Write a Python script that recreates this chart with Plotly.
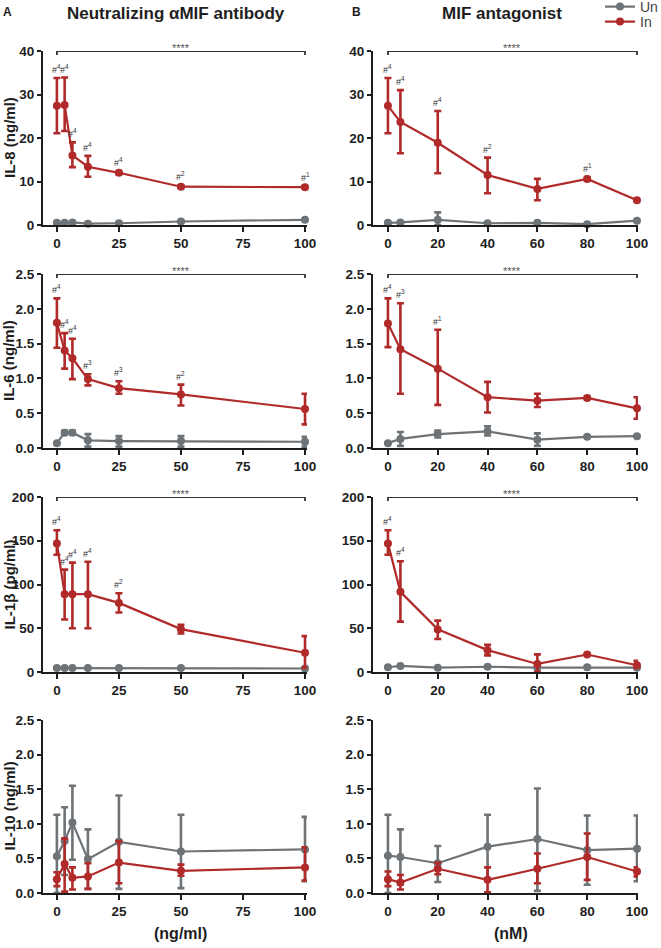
import plotly.graph_objects as go

# ---------------- data ----------------
x_ab = [0, 3.125, 6.25, 12.5, 25, 50, 100]
x_ant = [0, 5, 20, 40, 60, 80, 100]

# IL-8 (ng/ml)
il8_ab_un = [0.5, 0.5, 0.6, 0.3, 0.4, 0.8, 1.2]
il8_ab_un_up = [0.2, 0.2, 0.2, 0.2, 0.2, 0.2, 0.2]
il8_ab_un_dn = [0.2, 0.2, 0.2, 0.2, 0.2, 0.2, 0.2]
il8_ab_in = [27.4, 27.6, 16.0, 13.4, 12.0, 8.8, 8.7]
il8_ab_in_up = [6.4, 6.3, 3.0, 2.5, 0.3, 0.3, 0.3]
il8_ab_in_dn = [6.3, 6.0, 2.7, 2.3, 0.3, 0.3, 0.3]
il8_ab_sig = ["4", "4", "4", "4", "4", "2", "1"]

il8_ant_un = [0.5, 0.6, 1.2, 0.4, 0.5, 0.2, 1.0]
il8_ant_un_up = [0.2, 0.2, 1.7, 0.2, 0.2, 0.1, 0.2]
il8_ant_un_dn = [0.2, 0.2, 1.2, 0.2, 0.2, 0.1, 0.2]
il8_ant_in = [27.4, 23.7, 18.9, 11.5, 8.3, 10.6, 5.7]
il8_ant_in_up = [6.4, 7.3, 7.3, 4.0, 2.3, 0.4, 0.3]
il8_ant_in_dn = [6.3, 7.2, 7.0, 4.2, 2.6, 0.4, 0.3]
il8_ant_sig = ["4", "4", "4", "2", "", "1", ""]

# IL-6 (ng/ml)
il6_ab_un = [0.07, 0.22, 0.22, 0.11, 0.10, 0.10, 0.09]
il6_ab_un_up = [0.0, 0.03, 0.03, 0.09, 0.07, 0.07, 0.07]
il6_ab_un_dn = [0.0, 0.03, 0.03, 0.09, 0.08, 0.08, 0.07]
il6_ab_in = [1.80, 1.40, 1.29, 0.99, 0.86, 0.77, 0.56]
il6_ab_in_up = [0.35, 0.25, 0.28, 0.07, 0.10, 0.14, 0.22]
il6_ab_in_dn = [0.36, 0.26, 0.30, 0.09, 0.08, 0.16, 0.22]
il6_ab_sig = ["4", "4", "4", "3", "3", "2", ""]

il6_ant_un = [0.07, 0.13, 0.20, 0.24, 0.12, 0.16, 0.17]
il6_ant_un_up = [0.0, 0.10, 0.05, 0.07, 0.09, 0.01, 0.01]
il6_ant_un_dn = [0.0, 0.10, 0.05, 0.06, 0.09, 0.01, 0.01]
il6_ant_in = [1.79, 1.42, 1.14, 0.73, 0.68, 0.72, 0.57]
il6_ant_in_up = [0.36, 0.66, 0.56, 0.22, 0.10, 0.02, 0.16]
il6_ant_in_dn = [0.34, 0.64, 0.52, 0.22, 0.09, 0.02, 0.15]
il6_ant_sig = ["4", "3", "1", "", "", "", ""]

# IL-1beta (pg/ml)
il1b_ab_un = [4.5, 4.5, 4.5, 4.5, 4.5, 4.5, 4.0]
il1b_ab_un_up = [0.5, 0.5, 0.5, 0.5, 0.5, 0.5, 0.5]
il1b_ab_un_dn = [0.5, 0.5, 0.5, 0.5, 0.5, 0.5, 0.5]
il1b_ab_in = [147, 89, 89, 89, 79, 49, 22]
il1b_ab_in_up = [15, 28, 36, 37, 11, 5, 19]
il1b_ab_in_dn = [13, 29, 39, 39, 11, 5, 17]
il1b_ab_sig = ["4", "4", "4", "4", "2", "", ""]

il1b_ant_un = [5.4, 6.9, 5.0, 6.0, 5.0, 5.4, 5.0]
il1b_ant_un_up = [0.5, 0.5, 0.5, 0.5, 0.5, 0.5, 0.5]
il1b_ant_un_dn = [0.5, 0.5, 0.5, 0.5, 0.5, 0.5, 0.5]
il1b_ant_in = [147, 91.6, 48.7, 25, 9.2, 20, 7.7]
il1b_ant_in_up = [15, 35, 10, 6, 11, 1, 5]
il1b_ant_in_dn = [13, 34, 11, 6, 9, 1, 3]
il1b_ant_sig = ["4", "4", "", "", "", "", ""]

# IL-10 (ng/ml)
il10_ab_un = [0.53, 0.75, 1.02, 0.49, 0.74, 0.60, 0.63]
il10_ab_un_up = [0.60, 0.49, 0.53, 0.43, 0.67, 0.53, 0.47]
il10_ab_un_dn = [0.53, 0.49, 0.54, 0.43, 0.68, 0.53, 0.46]
il10_ab_in = [0.20, 0.42, 0.22, 0.24, 0.44, 0.32, 0.37]
il10_ab_in_up = [0.10, 0.37, 0.15, 0.19, 0.31, 0.09, 0.29]
il10_ab_in_dn = [0.10, 0.40, 0.17, 0.18, 0.30, 0.07, 0.19]
il10_ab_sig = ["", "", "", "", "", "", ""]

il10_ant_un = [0.54, 0.52, 0.43, 0.67, 0.78, 0.62, 0.64]
il10_ant_un_up = [0.59, 0.40, 0.25, 0.46, 0.73, 0.50, 0.48]
il10_ant_un_dn = [0.54, 0.40, 0.27, 0.46, 0.75, 0.50, 0.47]
il10_ant_in = [0.20, 0.15, 0.35, 0.19, 0.35, 0.52, 0.31]
il10_ant_in_up = [0.11, 0.11, 0.09, 0.18, 0.22, 0.34, 0.06]
il10_ant_in_dn = [0.10, 0.10, 0.08, 0.18, 0.21, 0.33, 0.07]
il10_ant_sig = ["", "", "", "", "", "", ""]

y_titles = ["IL-8 (ng/ml)", "IL-6 (ng/ml)", "IL-1β (pg/ml)", "IL-10 (ng/ml)"]
y_ranges = [[0, 40], [0, 2.5], [0, 200], [0, 2.5]]
y_dticks = [10, 0.5, 50, 0.5]
y_formats = ["d", ".1f", "d", ".1f"]
x_ab_ticks = [0, 25, 50, 75, 100]
x_ant_ticks = [0, 20, 40, 60, 80, 100]
col_titles = ["Neutralizing αMIF antibody", "MIF antagonist"]
col_letters = ["A", "B"]
x_titles = ["(ng/ml)", "(nM)"]
bracket_rows = [True, True, True, False]
series_names = ["Un", "In"]

# ---------------- style ----------------
RED = "#b02a2a"
GRAY = "#6d7377"
AX = "#1e1e1e"
FONT = "Liberation Sans"
W, H = 661, 948

col_px = [(43, 307), (373, 638)]
row_px = [(51, 225), (274, 448), (497, 672), (720, 893)]
x_ranges = [[-5.6, 100.8], [-6.0, 100.4]]
title_cx = [176, 502]
letter_cx = [7, 357]
xtitle_cx = [180, 511]
legend_cy = [7, 22]

panels = [
    [(il8_ab_un, il8_ab_un_up, il8_ab_un_dn, il8_ab_in, il8_ab_in_up, il8_ab_in_dn, il8_ab_sig),
     (il8_ant_un, il8_ant_un_up, il8_ant_un_dn, il8_ant_in, il8_ant_in_up, il8_ant_in_dn, il8_ant_sig)],
    [(il6_ab_un, il6_ab_un_up, il6_ab_un_dn, il6_ab_in, il6_ab_in_up, il6_ab_in_dn, il6_ab_sig),
     (il6_ant_un, il6_ant_un_up, il6_ant_un_dn, il6_ant_in, il6_ant_in_up, il6_ant_in_dn, il6_ant_sig)],
    [(il1b_ab_un, il1b_ab_un_up, il1b_ab_un_dn, il1b_ab_in, il1b_ab_in_up, il1b_ab_in_dn, il1b_ab_sig),
     (il1b_ant_un, il1b_ant_un_up, il1b_ant_un_dn, il1b_ant_in, il1b_ant_in_up, il1b_ant_in_dn, il1b_ant_sig)],
    [(il10_ab_un, il10_ab_un_up, il10_ab_un_dn, il10_ab_in, il10_ab_in_up, il10_ab_in_dn, il10_ab_sig),
     (il10_ant_un, il10_ant_un_up, il10_ant_un_dn, il10_ant_in, il10_ant_in_up, il10_ant_in_dn, il10_ant_sig)],
]
xs = [x_ab, x_ant]
xticks = [x_ab_ticks, x_ant_ticks]

fig = go.Figure()
annotations = []
shapes = []

idx = 0
for r in range(4):
    for c in range(2):
        idx += 1
        xa = "x" if idx == 1 else f"x{idx}"
        ya = "y" if idx == 1 else f"y{idx}"
        xkey = "xaxis" if idx == 1 else f"xaxis{idx}"
        ykey = "yaxis" if idx == 1 else f"yaxis{idx}"
        un, un_up, un_dn, inn, in_up, in_dn, sig = panels[r][c]
        x = xs[c]
        for k, (name, vals, up, dn, col) in enumerate([
            (series_names[0], un, un_up, un_dn, GRAY),
            (series_names[1], inn, in_up, in_dn, RED),
        ]):
            fig.add_trace(go.Scatter(
                x=x, y=vals, mode="lines+markers", name=name,
                line=dict(color=col, width=2.2),
                marker=dict(color=col, size=8),
                error_y=dict(type="data", array=up, arrayminus=dn, symmetric=False,
                             color=col, thickness=2.6, width=3.5),
                xaxis=xa, yaxis=ya, cliponaxis=False,
                showlegend=(idx == 1), legend=("legend" if k == 0 else "legend2"),
            ))
        # significance labels
        for xi, yi, ui, s in zip(x, inn, in_up, sig):
            if s:
                annotations.append(dict(
                    x=xi, y=yi + ui, xref=xa, yref=ya, text=f"#<sup>{s}</sup>",
                    showarrow=False, yanchor="bottom", yshift=1,
                    font=dict(family=FONT, size=9, color="#333333"),
                ))
        x0, x1 = col_px[c]
        y0, y1 = row_px[r]
        fig.update_layout(**{
            xkey: dict(domain=[x0 / W, x1 / W], range=x_ranges[c], anchor=ya,
                       tickvals=xticks[c], showline=True, linecolor=AX, linewidth=2,
                       ticks="outside", ticklen=5, tickwidth=2, tickcolor=AX,
                       showgrid=False, zeroline=False, automargin=False,
                       tickfont=dict(family=FONT, size=13.5, color=AX, weight="bold")),
            ykey: dict(domain=[1 - y1 / H, 1 - y0 / H], range=y_ranges[r], anchor=xa,
                       dtick=y_dticks[r], tick0=0, tickformat=y_formats[r],
                       showline=True, linecolor=AX, linewidth=2,
                       ticks="outside", ticklen=4, tickwidth=2, tickcolor=AX,
                       showgrid=False, zeroline=False, automargin=False,
                       tickfont=dict(family=FONT, size=13.5, color=AX, weight="bold")),
        })
        if bracket_rows[r]:
            top = y_ranges[r][1]
            shapes.append(dict(type="line", xref=xa, yref=ya, x0=x[0], x1=x[-1], y0=top, y1=top,
                               line=dict(color="#333333", width=1.8)))
            for xe in (x[0], x[-1]):
                shapes.append(dict(type="line", xref=xa, yref=ya, ysizemode="pixel", yanchor=top,
                                   x0=xe, x1=xe, y0=-4, y1=4,
                                   line=dict(color="#333333", width=1.8)))
            annotations.append(dict(x=(x[0] + x[-1]) / 2, y=top, xref=xa, yref=ya, text="****",
                                    showarrow=False, yanchor="bottom", yshift=-5,
                                    font=dict(family=FONT, size=11, color="#555555")))
        if c == 0:
            annotations.append(dict(x=9 / W, y=1 - (y0 + y1) / 2 / H, xref="paper", yref="paper",
                                    text=y_titles[r], textangle=-90, showarrow=False,
                                    xanchor="center", yanchor="middle",
                                    font=dict(family=FONT, size=15, color=AX, weight="bold")))

# column titles, letters, x titles
for c in range(2):
    annotations.append(dict(x=title_cx[c] / W, y=1 - 13 / H,
                            xref="paper", yref="paper", text=col_titles[c], showarrow=False,
                            xanchor="center", yanchor="middle",
                            font=dict(family=FONT, size=17, color=AX, weight="bold")))
    annotations.append(dict(x=letter_cx[c] / W, y=1 - 12 / H, xref="paper", yref="paper",
                            text=col_letters[c], showarrow=False, xanchor="center", yanchor="middle",
                            font=dict(family=FONT, size=12, color=AX, weight="bold")))
    annotations.append(dict(x=xtitle_cx[c] / W, y=1 - 933 / H,
                            xref="paper", yref="paper", text=x_titles[c], showarrow=False,
                            xanchor="center", yanchor="middle",
                            font=dict(family=FONT, size=16, color=AX, weight="bold")))

leg_common = dict(xanchor="left", yanchor="middle", font=dict(family=FONT, size=14, color="#444444"),
                  bgcolor="rgba(0,0,0,0)", itemwidth=30, borderwidth=0)

fig.update_layout(
    width=W, height=H, margin=dict(l=0, r=0, t=0, b=0, autoexpand=False),
    plot_bgcolor="white", paper_bgcolor="white",
    annotations=annotations, shapes=shapes,
    legend=dict(x=600 / W, y=1 - legend_cy[0] / H, **leg_common),
    legend2=dict(x=600 / W, y=1 - legend_cy[1] / H, **leg_common),
)

fig.write_html("out.html", config={"displayModeBar": False},
               post_script="document.body.style.margin='0px';")
